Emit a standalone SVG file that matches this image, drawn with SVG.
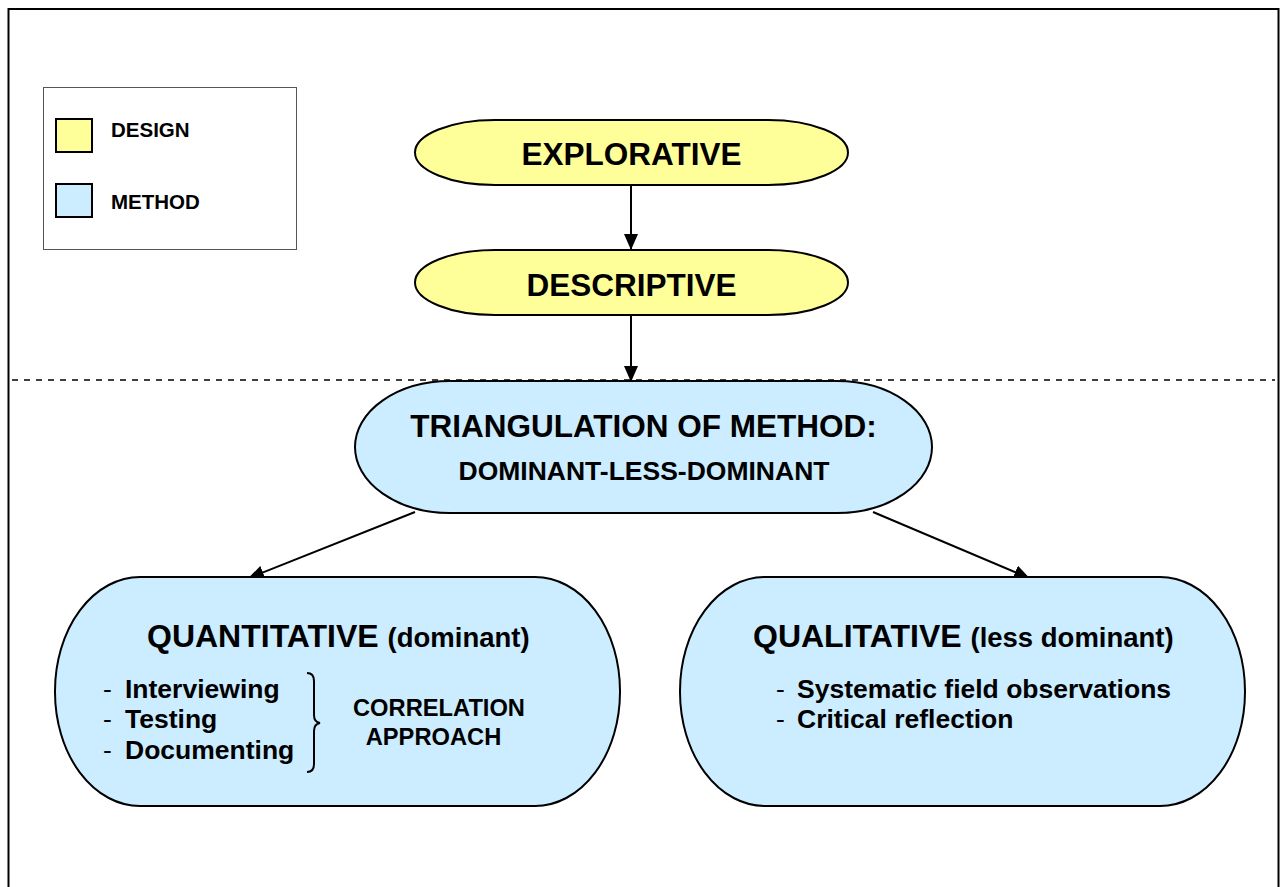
<svg xmlns="http://www.w3.org/2000/svg" width="1284" height="887" viewBox="0 0 1284 887">
<defs>
<style>
.t{font-family:"Liberation Sans",Arial,sans-serif;font-weight:bold;fill:#000}
.d{font-family:"Liberation Sans",Arial,sans-serif;font-weight:normal;fill:#000}
.design{fill:#FFFF99;stroke:#000;stroke-width:2}
.method{fill:#CCECFF;stroke:#000;stroke-width:2}
.conn{stroke:#000;stroke-width:2;fill:none}
</style>
<marker id="ah" markerWidth="16" markerHeight="14" refX="15" refY="7" orient="auto" markerUnits="userSpaceOnUse">
<path d="M0,0 L16,7 L0,14 Z" fill="#000"/>
</marker>
</defs>
<rect width="1284" height="887" fill="#fff"/>
<rect x="8.5" y="9" width="1270" height="900" fill="none" stroke="#000" stroke-width="2"/>
<line x1="12" y1="380" x2="1275" y2="380" stroke="#000" stroke-width="1.5" stroke-dasharray="6,6"/>

<g id="legend">
<rect x="43.5" y="87.5" width="253" height="162" fill="#fff" stroke="#555" stroke-width="1"/>
<rect x="56" y="119" width="36" height="33" class="design"/>
<text class="t" x="111" y="137" font-size="20.5">DESIGN</text>
<rect x="56" y="184" width="36" height="33" class="method"/>
<text class="t" x="111" y="209" font-size="20.5">METHOD</text>
</g>

<g id="connectors">
<line class="conn" x1="631" y1="185" x2="631" y2="249" marker-end="url(#ah)"/>
<line class="conn" x1="631" y1="316" x2="631" y2="381" marker-end="url(#ah)"/>
<line class="conn" x1="415" y1="512" x2="249" y2="578" marker-end="url(#ah)"/>
<line class="conn" x1="873" y1="512" x2="1029" y2="578" marker-end="url(#ah)"/>
</g>

<g id="explorative">
<rect x="415" y="120" width="433" height="65" rx="80" ry="32.5" class="design"/>
<text class="t" x="631.5" y="165" font-size="31.5" text-anchor="middle">EXPLORATIVE</text>
</g>

<g id="descriptive">
<rect x="415" y="250" width="433" height="65" rx="80" ry="32.5" class="design"/>
<text class="t" x="631.5" y="296" font-size="31.5" text-anchor="middle">DESCRIPTIVE</text>
</g>

<g id="triangulation">
<rect x="355" y="381" width="577" height="132" rx="95" ry="66" class="method"/>
<text class="t" x="643.5" y="437" font-size="31.5" text-anchor="middle">TRIANGULATION OF METHOD:</text>
<text class="t" x="644" y="480" font-size="26.5" text-anchor="middle">DOMINANT-LESS-DOMINANT</text>
</g>

<g id="quantitative">
<rect x="55" y="577" width="565" height="229" rx="85" ry="114" class="method"/>
<text class="t" x="147" y="647" font-size="32">QUANTITATIVE <tspan font-size="27.5">(dominant)</tspan></text>
<text class="d" x="103" y="698" font-size="26.5">-</text>
<text class="d" x="103" y="728" font-size="26.5">-</text>
<text class="d" x="103" y="759" font-size="26.5">-</text>
<text class="t" x="125" y="698" font-size="26.5">Interviewing</text>
<text class="t" x="125" y="728" font-size="26.5">Testing</text>
<text class="t" x="125" y="759" font-size="26.5">Documenting</text>
<path d="M307,673 Q314,673 314,681 L314,715 Q314,722 320,723 Q314,724 314,731 L314,764 Q314,772 307,772" fill="none" stroke="#000" stroke-width="2"/>
<text class="t" x="439" y="716" font-size="23.7" text-anchor="middle">CORRELATION</text>
<text class="t" x="433.5" y="745" font-size="23.7" text-anchor="middle">APPROACH</text>
</g>

<g id="qualitative">
<rect x="680" y="577" width="565" height="229" rx="85" ry="114" class="method"/>
<text class="t" x="753" y="647" font-size="32">QUALITATIVE <tspan font-size="27.5">(less dominant)</tspan></text>
<text class="d" x="776" y="698" font-size="26.5">-</text>
<text class="d" x="776" y="728" font-size="26.5">-</text>
<text class="t" x="797" y="698" font-size="26.5">Systematic field observations</text>
<text class="t" x="797" y="728" font-size="26.5">Critical reflection</text>
</g>
</svg>
